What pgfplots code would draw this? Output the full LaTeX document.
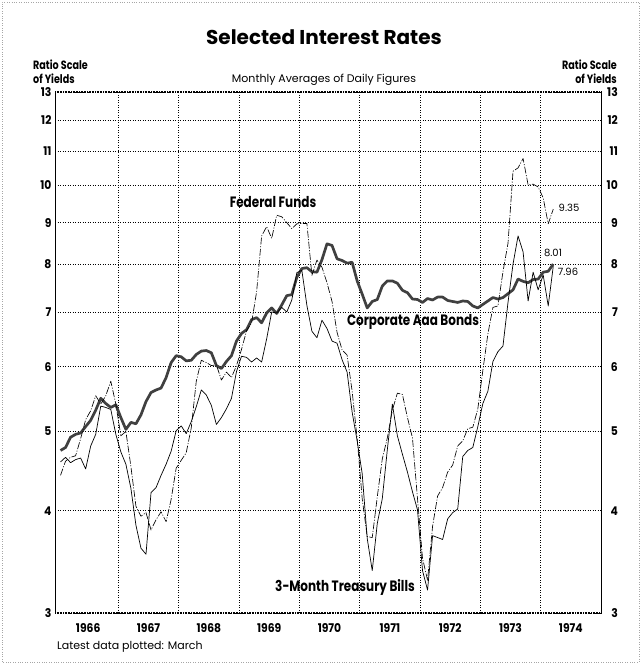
\documentclass[border=0pt]{standalone}
\usepackage{fontspec}
\setmainfont{Poppins}
\newfontfamily\condfont{Poppins}[FakeStretch=0.8]
\newfontfamily\tickfont{Poppins}[FakeStretch=0.9]
\usepackage{pgfplots}
\usepackage{pgfplotstable}
\pgfplotsset{compat=1.18}

% m = month index from Jan 1966; aaa = Corporate Aaa bonds; ff = Federal funds; tb = 3-month Treasury bills
\pgfplotstableread{
m aaa ff tb
0 4.74 4.42 4.59
1 4.78 4.60 4.65
2 4.92 4.65 4.58
3 4.96 4.67 4.62
4 4.98 4.90 4.64
5 5.07 5.17 4.50
6 5.16 5.30 4.80
7 5.31 5.53 4.96
8 5.49 5.40 5.37
9 5.41 5.53 5.35
10 5.35 5.76 5.32
11 5.39 5.40 4.96
12 5.20 4.94 4.72
13 5.03 5.00 4.56
14 5.13 4.53 4.26
15 5.11 4.05 3.84
16 5.24 3.94 3.60
17 5.44 3.98 3.54
18 5.58 3.79 4.21
19 5.62 3.90 4.27
20 5.65 3.99 4.42
21 5.82 3.88 4.56
22 6.07 4.13 4.73
23 6.19 4.51 5.01
24 6.17 4.61 5.08
25 6.10 4.71 4.97
26 6.11 5.05 5.14
27 6.21 5.76 5.36
28 6.27 6.11 5.62
29 6.28 6.07 5.54
30 6.24 6.02 5.38
31 6.02 6.03 5.10
32 5.97 5.78 5.20
33 6.09 5.91 5.33
34 6.19 5.82 5.49
35 6.45 6.02 5.92
36 6.59 6.30 6.18
37 6.66 6.64 6.16
38 6.85 6.79 6.08
39 6.89 7.41 6.15
40 6.79 8.67 6.08
41 6.98 8.90 6.49
42 7.08 8.61 7.00
43 6.97 9.19 6.98
44 7.14 9.15 7.09
45 7.33 9.00 7.00
46 7.35 8.85 7.24
47 7.72 8.97 7.82
48 7.91 8.98 7.87
49 7.93 8.98 7.13
50 7.84 7.76 6.63
51 7.83 8.10 6.51
52 8.11 7.94 6.84
53 8.48 7.60 6.68
54 8.44 7.21 6.45
55 8.13 6.61 6.41
56 8.09 6.29 6.12
57 8.03 6.20 5.91
58 8.05 5.60 5.28
59 7.64 4.90 4.87
60 7.36 4.14 4.44
61 7.08 3.72 3.70
62 7.21 3.71 3.38
63 7.25 4.16 3.86
64 7.53 4.63 4.14
65 7.64 4.91 4.75
66 7.64 5.31 5.40
67 7.59 5.57 4.94
68 7.44 5.55 4.69
69 7.39 5.20 4.46
70 7.26 4.91 4.22
71 7.25 4.14 4.01
72 7.19 3.50 3.38
73 7.27 3.29 3.20
74 7.24 3.83 3.73
75 7.30 4.17 3.71
76 7.30 4.27 3.69
77 7.23 4.46 3.91
78 7.21 4.55 3.98
79 7.19 4.80 4.02
80 7.22 4.87 4.66
81 7.21 5.04 4.74
82 7.12 5.06 4.78
83 7.08 5.33 5.07
84 7.15 5.94 5.41
85 7.22 6.58 5.60
86 7.29 7.09 6.09
87 7.26 7.12 6.26
88 7.29 7.84 6.36
89 7.37 8.49 7.19
90 7.45 10.40 8.01
91 7.68 10.50 8.67
92 7.63 10.78 8.29
93 7.60 10.01 7.22
94 7.67 10.03 7.83
95 7.68 9.95 7.45
96 7.83 9.65 7.77
97 7.85 8.97 7.12
98 8.01 9.35 7.96
}\rates

\begin{document}
\begin{tikzpicture}[x=1pt,y=1pt]
\useasboundingbox (0,0) rectangle (641,664);
\draw[gray!70, line width=0.6pt, dash pattern=on 0.8pt off 1.6pt] (2,2) rectangle (639,662);

\pgfplotsset{
  myticks/.style={
    tick label style={font=\tickfont\bfseries\fontsize{12}{13}\selectfont},
  },
}

\begin{axis}[
  at={(55pt,51pt)}, anchor=south west,
  scale only axis, width=546pt, height=521pt,
  xmin=1965.95, xmax=1975.0,
  ymode=log, ymin=3, ymax=13,
  ytick={3,4,5,6,7,8,9,10,11,12,13},
  yticklabels={3,4,5,6,7,8,9,10,11,12,13},
  xtick={1966.5,1967.5,1968.5,1969.5,1970.5,1971.5,1972.5,1973.5,1974.5},
  xticklabels={1966,1967,1968,1969,1970,1971,1972,1973,1974},
  minor xtick={1967,1968,1969,1970,1971,1972,1973,1974},
  ymajorgrids, xminorgrids,
  major tick length=0pt, minor tick length=0pt,
  major grid style={black, line width=0.55pt, dash pattern=on 0.9pt off 1.6pt},
  minor grid style={black, line width=0.55pt, dash pattern=on 0.9pt off 1.6pt},
  separate axis lines,
  x axis line style={black, line width=1.1pt, dash pattern=on 1pt off 0.6pt},
  y axis line style={black, line width=1pt},
  myticks,
  xticklabel style={yshift=-7pt},
  ytick pos=left,
]
\addplot[black!75, line width=2.7pt, line join=round]
  table[x expr={1966+(\thisrow{m}+0.5)/12}, y=aaa] {\rates};
\addplot[black, line width=0.65pt, line join=round, dash pattern=on 7pt off 1.6pt on 1pt off 1.6pt]
  table[x expr={1966+(\thisrow{m}+0.5)/12}, y=ff] {\rates};
\addplot[black, line width=0.7pt, line join=round]
  table[x expr={1966+(\thisrow{m}+0.5)/12}, y=tb] {\rates};
\end{axis}

\begin{axis}[
  at={(55pt,51pt)}, anchor=south west,
  scale only axis, width=546pt, height=521pt,
  xmin=1965.95, xmax=1975.0,
  ymode=log, ymin=3, ymax=13,
  hide x axis,
  axis y line*=right,
  y axis line style={draw=none},
  ytick={3,4,5,6,7,8,9,10,11,12,13},
  yticklabels={3,4,5,6,7,8,9,10,11,12,13},
  major tick length=0pt, minor tick length=0pt,
  myticks,
  yticklabel style={anchor=east, inner sep=1pt, xshift=18pt},
]
\end{axis}

% titles and annotations
\node[font=\bfseries\fontsize{20}{22}\selectfont] at (324,627) {Selected Interest Rates};
\node[font=\condfont\bfseries\fontsize{12}{13}\selectfont, anchor=west, inner sep=0pt] at (33,599) {Ratio Scale};
\node[font=\condfont\bfseries\fontsize{12}{13}\selectfont, anchor=west, inner sep=0pt] at (33,585) {of Yields};
\node[font=\condfont\bfseries\fontsize{12}{13}\selectfont, anchor=east, inner sep=0pt] at (617,599) {Ratio Scale};
\node[font=\condfont\bfseries\fontsize{12}{13}\selectfont, anchor=east, inner sep=0pt] at (617,585) {of Yields};
\node[font=\fontsize{11}{12}\selectfont] at (324,584) {Monthly Averages of Daily Figures};
\node[font=\fontsize{11}{12}\selectfont, anchor=west, inner sep=0pt] at (57,17) {Latest data plotted: March};

\node[font=\condfont\bfseries\fontsize{15}{16}\selectfont] at (273,462) {Federal Funds};
\node[font=\condfont\bfseries\fontsize{15}{16}\selectfont] at (413,342) {Corporate Aaa Bonds};
\node[font=\condfont\bfseries\fontsize{15}{16}\selectfont] at (345,77) {3-Month Treasury Bills};

\node[font=\fontsize{10}{11}\selectfont] at (569,456) {9.35};
\node[font=\fontsize{10}{11}\selectfont] at (553,411) {8.01};
\node[font=\fontsize{10}{11}\selectfont] at (568,392) {7.96};
\end{tikzpicture}
\end{document}
